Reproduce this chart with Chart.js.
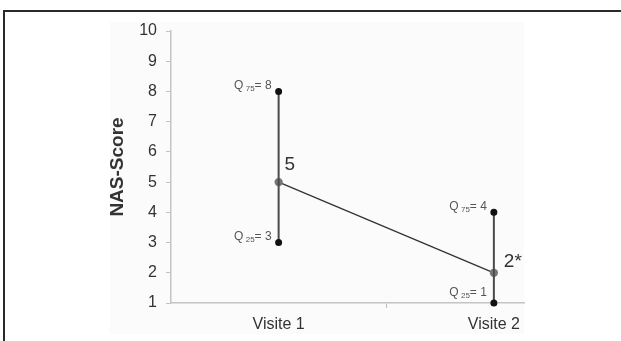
<!DOCTYPE html>
<html>
<head>
<meta charset="utf-8">
<script src="https://cdn.jsdelivr.net/npm/chart.js@4"></script>
<style>
  body { margin: 0; background: #fff; }
  #wrap { position: relative; width: 621px; height: 341px; overflow: hidden; }
  #frame { position: absolute; left: 3px; top: 10px; width: 700px; height: 400px; border: 2px solid #2a2a2a; }
  #plotbg { position: absolute; left: 110px; top: 22px; width: 414px; height: 312px; background: #fbfbfb; }
  canvas { position: absolute; left: 0; top: 0; }
</style>
</head>
<body>
<div id="wrap">
  <div id="frame"></div>
  <div id="plotbg"></div>
  <canvas id="nasChart" width="621" height="341"></canvas>
</div>
<script>
// data
var visits = ['Visite 1', 'Visite 2'];
var median = [5, 2];
var q25 = [3, 1];
var q75 = [8, 4];
var medianLabels = ['5', '2*'];
var yMin = 1, yMax = 10;

var FONT = '"Liberation Sans", Arial, sans-serif';

// x positions: middle of each category
var pos = visits.map(function (v, i) { return i + 0.5; });

var medianPts = pos.map(function (x, i) { return { x: x, y: median[i] }; });
var whiskers = pos.map(function (x, i) {
    return {
        type: 'line',
        data: [{ x: x, y: q25[i] }, { x: x, y: q75[i] }],
        borderColor: '#4a4a4a',
        borderWidth: 2,
        pointRadius: 2.5,
        pointBackgroundColor: '#111',
        pointBorderColor: '#111',
        showLine: true,
        clip: false
    };
});

// labels Q75 / Q25 and median values
var labelPlugin = {
    id: 'labelPlugin',
    afterDatasetsDraw: function (chart) {
        var ctx = chart.ctx;
        var xs = chart.scales.x, ys = chart.scales.y;
        ctx.save();
        ctx.textBaseline = 'middle';
        pos.forEach(function (x, i) {
            var px = xs.getPixelForValue(x);
            var qs = [[q75[i], '75'], [q25[i], '25']];
            qs.forEach(function (q) {
                var py = ys.getPixelForValue(q[0]) - (q[0] === yMin ? 10 : 6);
                var tail = '= ' + q[0];
                ctx.font = '12px ' + FONT;
                var wTail = ctx.measureText(tail).width;
                var wQ = ctx.measureText('Q ').width;
                ctx.font = '8px ' + FONT;
                var wSub = ctx.measureText(q[1]).width;
                var right = px - 7;
                var left = right - wTail - wSub - wQ + 1;
                ctx.fillStyle = '#555';
                ctx.textAlign = 'left';
                ctx.font = '12px ' + FONT;
                ctx.fillText('Q ', left, py);
                ctx.fillText(tail, left + wQ + wSub - 1, py);
                ctx.font = '8px ' + FONT;
                ctx.fillText(q[1], left + wQ - 1, py + 3);
            });
            // median value
            ctx.font = '19px ' + FONT;
            ctx.fillStyle = '#333';
            ctx.textAlign = 'left';
            var my = ys.getPixelForValue(median[i]);
            ctx.fillText(medianLabels[i], px + (i === 0 ? 6 : 10), my - (i === 0 ? 17 : 11));
        });
        ctx.restore();
    }
};

var chartArea = document.getElementById('nasChart').getContext('2d');
var nasChart = new Chart(chartArea, {
    type: 'scatter',
    data: {
        datasets: whiskers.concat([{
            type: 'line',
            data: medianPts,
            borderColor: '#333',
            borderWidth: 1.3,
            pointRadius: 3.5,
            pointBackgroundColor: '#777',
            pointBorderColor: '#777',
            showLine: true,
            clip: false
        }])
    },
    options: {
        responsive: false,
        animation: false,
        layout: { padding: { left: 100, right: 97, top: 31, bottom: 0 } },
        plugins: { legend: { display: false }, tooltip: { enabled: false } },
        scales: {
            x: {
                type: 'linear',
                min: 0,
                max: 1.64,
                afterBuildTicks: function (scale) {
                    scale.ticks = [{ value: 0.5 }, { value: 1 }, { value: 1.5 }];
                },
                afterFit: function (scale) { scale.height = 38; },
                ticks: {
                    autoSkip: false,
                    maxRotation: 0,
                    padding: 7,
                    color: '#333',
                    font: { family: FONT, size: 16 },
                    callback: function (v) {
                        var i = pos.indexOf(v);
                        return i >= 0 ? visits[i] : '';
                    }
                },
                grid: {
                    drawOnChartArea: false,
                    tickLength: 5,
                    color: function (c) { return c.tick && c.tick.value === 1 ? '#bbb' : 'rgba(0,0,0,0)'; }
                },
                border: { color: '#c4c4c4', width: 1.5 }
            },
            y: {
                min: yMin,
                max: yMax,
                afterFit: function (scale) { scale.width = 71; },
                ticks: {
                    stepSize: 1,
                    padding: 9,
                    color: '#333',
                    font: { family: FONT, size: 16 }
                },
                grid: { drawOnChartArea: false, tickLength: 5, color: '#c4c4c4' },
                border: { color: '#c4c4c4', width: 1.5 },
                title: {
                    display: true,
                    text: 'NAS-Score',
                    color: '#333',
                    padding: { top: 6, bottom: 0 },
                    font: { family: FONT, size: 19, weight: 'bold' }
                }
            }
        }
    },
    plugins: [labelPlugin]
});
</script>
</body>
</html>
